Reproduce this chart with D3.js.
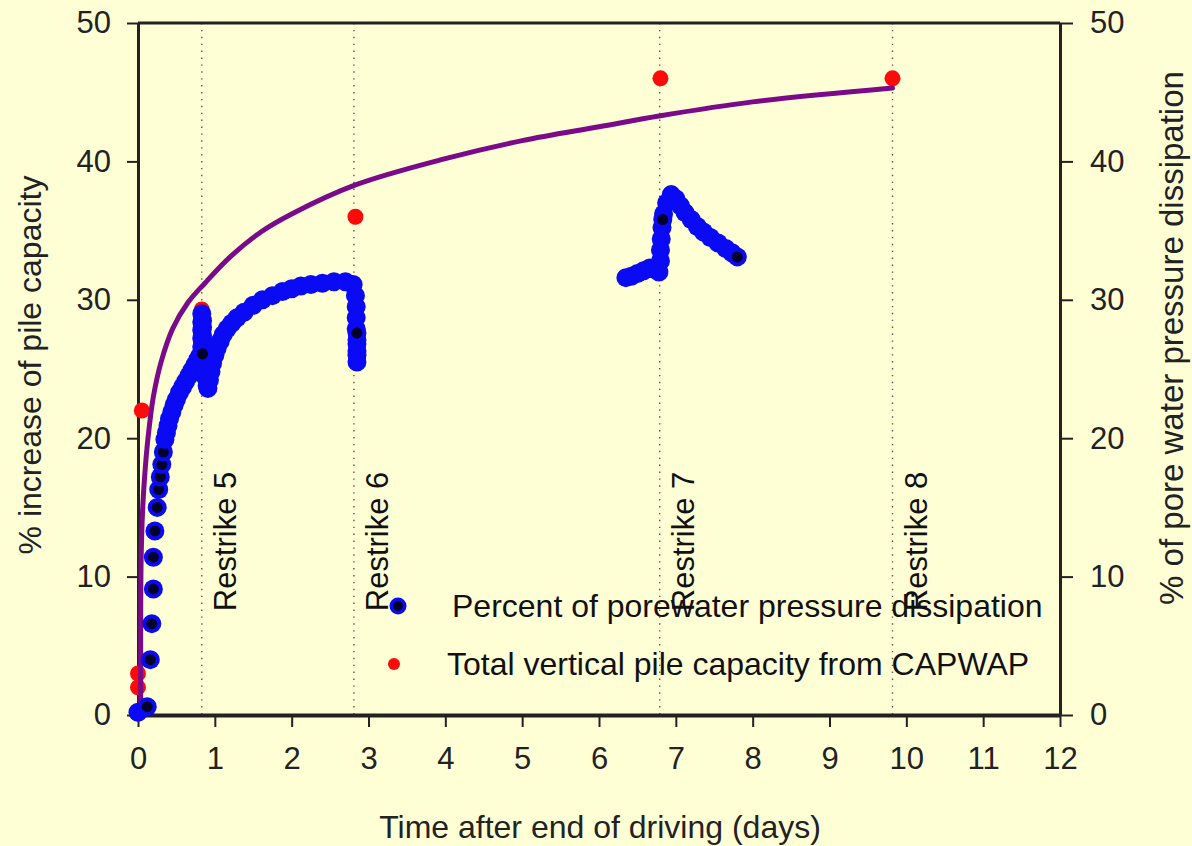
<!DOCTYPE html>
<html>
<head>
<meta charset="utf-8">
<script src="https://cdn.jsdelivr.net/npm/d3@7"></script>
<style>
  body { margin: 0; background: #ffffd6; }
  svg { display: block; font-family: "Liberation Sans", Arial, sans-serif; }
</style>
</head>
<body>
<div class="canvas"></div>
<script>
// x ticks (days) and y ticks (%)
const xTicks = d3.range(0, 13);
const yTicks = [0, 10, 20, 30, 40, 50];

// restrike events
const restrikeDays = [0.83, 2.81, 6.79, 9.82];
const restrikeNames = ["Restrike 5", "Restrike 6", "Restrike 7", "Restrike 8"];

// total vertical pile capacity from CAPWAP
const capDays = [0, 0, 0, 0.05, 0.83, 2.83, 6.8, 9.82];
const capPct = [0.1, 2.0, 3.0, 22.0, 29.3, 36.0, 46.0, 46.0];

// percent of porewater pressure dissipation
const poreDays = [
  0.0, 0.12, 0.16, 0.18, 0.2, 0.2, 0.22, 0.25, 0.27, 0.29, 0.31, 0.33, 0.35,
  0.37, 0.39, 0.41, 0.44, 0.47, 0.5, 0.54, 0.58, 0.62, 0.66, 0.7, 0.74, 0.78, 0.81,
  0.83, 0.83, 0.83, 0.83, 0.83, 0.84, 0.84, 0.84, 0.84, 0.85, 0.86, 0.87, 0.88, 0.9, 0.91,
  0.93, 0.95, 0.97, 1.0, 1.03, 1.07, 1.11, 1.16, 1.22, 1.29, 1.38, 1.5, 1.62, 1.75, 1.88, 2.0,
  2.12, 2.25, 2.4, 2.55, 2.7, 2.8, 2.83, 2.84, 2.84, 2.84, 2.85, 2.85, 2.85,
  2.85, 2.85, 2.85,
  6.35, 6.42, 6.5, 6.58, 6.66, 6.72, 6.78, 6.8, 6.8, 6.81, 6.82, 6.84,
  6.88, 6.94, 7.0, 7.06, 7.12, 7.2, 7.28, 7.36, 7.45, 7.55, 7.65, 7.73, 7.8,
  6.83, 0.84
];
const porePct = [
  0.2, 0.6, 4.0, 6.6, 9.1, 11.4, 13.3, 15.0, 16.3, 17.2, 18.1, 19.0, 19.9,
  20.4, 20.9, 21.4, 21.9, 22.4, 22.8, 23.3, 23.7, 24.1, 24.5, 24.9, 25.3, 25.7, 26.0,
  26.6, 27.2, 27.8, 28.4, 29.0, 28.5, 28.0, 27.4, 26.8, 26.2, 25.6, 25.0, 24.4, 23.8, 23.6,
  24.2, 24.8, 25.4, 26.0, 26.5, 27.0, 27.5, 27.9, 28.3, 28.7, 29.1, 29.6, 30.0, 30.3, 30.6, 30.8,
  31.0, 31.1, 31.2, 31.3, 31.3, 31.1, 30.3, 29.5, 28.7, 27.9, 27.1, 26.3, 25.5,
  26.0, 26.8, 27.6,
  31.6, 31.7, 31.9, 32.1, 32.3, 32.2, 32.0, 32.8, 33.6, 34.4, 35.2, 36.2,
  37.0, 37.6, 37.3, 36.8, 36.3, 35.8, 35.3, 34.9, 34.5, 34.1, 33.7, 33.4, 33.1,
  35.8, 26.1
];

// trend line
const trendDays = [0.035, 0.04, 0.06, 0.09, 0.13, 0.2, 0.3, 0.45, 0.65, 0.87, 1.2, 1.6, 2.0, 2.83, 4, 5, 6, 6.8, 8, 9.82];
const trendPct = [0, 11, 14.8, 17.5, 20.0, 23.0, 25.5, 27.9, 29.8, 31.2, 33.1, 34.9, 36.2, 38.3, 40.2, 41.5, 42.5, 43.3, 44.3, 45.3];

const w = 1192;
const h = 846;
const margin = { top: 23, right: 132, bottom: 131, left: 138 };
const graphWidth = w - margin.left - margin.right;
const graphHeight = h - margin.top - margin.bottom;

const svg = d3.select(".canvas").append("svg").attr("width", w).attr("height", h);
svg.append("rect").attr("width", w).attr("height", h).attr("fill", "#ffffd6");

const x = d3.scaleLinear().domain([0, 12]).range([0, graphWidth]);
const y = d3.scaleLinear().domain([0, 50]).range([graphHeight, 0]);

const graph = svg.append("g").attr("transform", `translate(${margin.left}, ${margin.top})`);

// restrike dotted lines
graph.selectAll(".restrike")
  .data(restrikeDays)
  .enter()
  .append("line")
  .attr("x1", d => x(d)).attr("x2", d => x(d))
  .attr("y1", 0).attr("y2", graphHeight)
  .attr("stroke", "#555").attr("stroke-width", 1.4)
  .attr("stroke-dasharray", "1.4,5.5");

graph.selectAll(".restrike-label")
  .data(restrikeDays)
  .enter()
  .append("text")
  .attr("transform", d => `translate(${x(d) + 34}, ${y(7.5)}) rotate(-90)`)
  .attr("font-size", 31)
  .attr("fill", "#111")
  .text((d, i) => restrikeNames[i]);

// axes
const axisColor = "#222";
const xAxisGroup = graph.append("g").attr("transform", `translate(0, ${graphHeight})`);
const yAxisGroup = graph.append("g");
const yAxisRightGroup = graph.append("g").attr("transform", `translate(${graphWidth}, 0)`);

xAxisGroup.call(d3.axisBottom(x).tickValues(xTicks).tickSize(12).tickPadding(20).tickSizeOuter(0));
yAxisGroup.call(d3.axisLeft(y).tickValues(yTicks).tickSize(11).tickPadding(16).tickSizeOuter(0));
yAxisRightGroup.call(d3.axisRight(y).tickValues(yTicks).tickSize(13).tickPadding(17).tickSizeOuter(0));

[xAxisGroup, yAxisGroup, yAxisRightGroup].forEach(g => {
  g.select(".domain").attr("stroke", axisColor).attr("stroke-width", 3);
  g.selectAll(".tick line").attr("stroke", axisColor).attr("stroke-width", 2);
  g.selectAll(".tick text").attr("font-size", 31).attr("fill", "#222")
    .attr("font-family", "Liberation Sans, Arial, sans-serif");
});
xAxisGroup.select(".domain").attr("stroke-width", 4);

// top border
graph.append("line")
  .attr("x1", 0).attr("x2", graphWidth).attr("y1", 0).attr("y2", 0)
  .attr("stroke", axisColor).attr("stroke-width", 3);

// CAPWAP points
graph.selectAll(".cap")
  .data(capPct)
  .enter()
  .append("circle")
  .attr("cx", (d, i) => x(capDays[i]))
  .attr("cy", d => y(d))
  .attr("r", 8)
  .attr("fill", "#ff0a0a");

// trend line
const trendLine = d3.line()
  .x((d, i) => x(trendDays[i]))
  .y(d => y(d))
  .curve(d3.curveCatmullRom.alpha(0.5));

graph.append("path")
  .datum(trendPct)
  .attr("d", trendLine)
  .attr("fill", "none")
  .attr("stroke", "#7a0a8a")
  .attr("stroke-width", 5)
  .attr("stroke-linecap", "round");

// porewater points: a dark centre stays visible only where no later marker covers it
const pts = porePct.map((d, i) => ({ px: x(poreDays[i]), py: y(d) }));
pts.forEach((p, i) => {
  let nearest = Infinity;
  for (let j = i + 1; j < pts.length; j++) {
    nearest = Math.min(nearest, Math.hypot(pts[j].px - p.px, pts[j].py - p.py));
  }
  p.dark = nearest > 12;
});

const poreGroups = graph.selectAll(".pore")
  .data(pts)
  .enter()
  .append("g");
poreGroups.append("circle")
  .attr("cx", d => d.px).attr("cy", d => d.py)
  .attr("r", 9.5)
  .attr("fill", "#0a0af5");
poreGroups.filter(d => d.dark)
  .append("circle")
  .attr("cx", d => d.px).attr("cy", d => d.py)
  .attr("r", 5.5)
  .attr("fill", "#00002a");

// legend
const legend = svg.append("g");
legend.append("circle").attr("cx", 398).attr("cy", 606).attr("r", 8.5).attr("fill", "#0a0af5");
legend.append("circle").attr("cx", 398).attr("cy", 606).attr("r", 5).attr("fill", "#00002a");
legend.append("text").attr("x", 452).attr("y", 617).attr("font-size", 32).attr("fill", "#111")
  .text("Percent of porewater pressure dissipation");
legend.append("circle").attr("cx", 394).attr("cy", 664).attr("r", 6).attr("fill", "#ff0a0a");
legend.append("text").attr("x", 447).attr("y", 675).attr("font-size", 32).attr("fill", "#111")
  .text("Total vertical pile capacity from CAPWAP");

// axis titles
svg.append("text")
  .attr("transform", `translate(41, 365) rotate(-90)`)
  .attr("text-anchor", "middle").attr("font-size", 32).attr("fill", "#222")
  .text("% increase of pile capacity");
svg.append("text")
  .attr("transform", `translate(1183, 338) rotate(-90)`)
  .attr("text-anchor", "middle").attr("font-size", 33).attr("fill", "#222")
  .text("% of pore water pressure dissipation");
svg.append("text")
  .attr("x", 600).attr("y", 838)
  .attr("text-anchor", "middle").attr("font-size", 32).attr("fill", "#222")
  .text("Time after end of driving (days)");
</script>
</body>
</html>
